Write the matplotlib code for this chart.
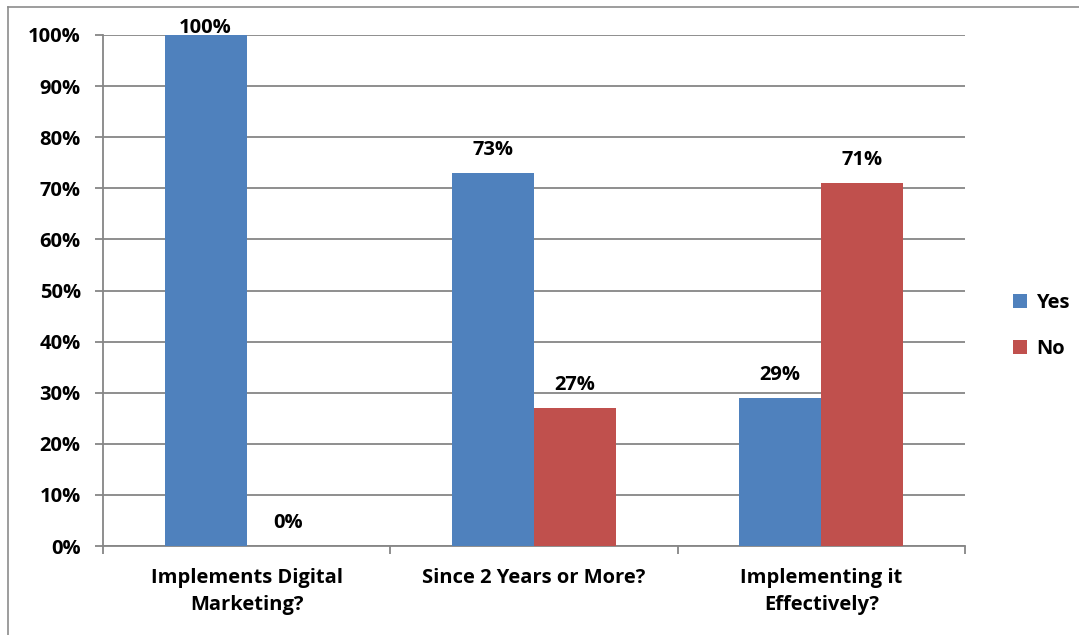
import matplotlib
matplotlib.use("Agg")
import matplotlib.pyplot as plt
from matplotlib.lines import Line2D
from matplotlib.patches import Patch
import numpy as np

categories = ["Implements Digital\nMarketing?", "Since 2 Years or More?", "Implementing it\nEffectively?"]
series_names = ["Yes", "No"]
yes_values = [100, 73, 29]
no_values = [0, 27, 71]
y_ticks = [0, 10, 20, 30, 40, 50, 60, 70, 80, 90, 100]
y_tick_labels = [f"{v}%" for v in y_ticks]

plt.rcParams['font.family'] = ['Open Sans', 'DejaVu Sans']
plt.rcParams['font.weight'] = 'bold'
FS = 14.5

W, H = 1079, 635
fig = plt.figure(figsize=(W / 100, H / 100), dpi=100)

# plot area in pixel coordinates
left, right, top, bottom = 103, 965, 35, 546
ax = fig.add_axes([left / W, 1 - bottom / H, (right - left) / W, (bottom - top) / H])

grid_col = "#868686"
colors = ["#4F81BD", "#C0504D"]
n = len(categories)
x = np.arange(n)
bw = 1 / 3.5

for i, (vals, col) in enumerate(zip([yes_values, no_values], colors)):
    offs = (i - 0.5) * bw
    ax.bar(x + offs, vals, width=bw, color=col, edgecolor="none", zorder=3)
    for xi, v in zip(x, vals):
        # labels sit above the bar, pushed down if they would leave the plot area
        dy = min(23, 7 + (100 - v) * 5.11)
        ax.annotate(f"{v}%", (xi + offs, v), xytext=(0, dy), textcoords="offset pixels",
                    ha="center", va="center", fontsize=FS, fontweight="bold",
                    color="black", zorder=5, annotation_clip=False)

ax.set_xlim(-0.5, n - 0.5)
ax.set_ylim(0, 100)
ax.set_yticks(y_ticks)
ax.set_yticklabels(y_tick_labels, fontsize=FS, fontweight="bold")
ax.yaxis.grid(True, color=grid_col, linewidth=1.3, zorder=0)
ax.set_axisbelow(True)

ax.set_xticks(np.arange(-0.5, n, 1))
ax.set_xticklabels([])
ax.tick_params(axis="x", direction="out", length=6, width=1.3, color=grid_col)
ax.tick_params(axis="y", direction="out", length=6, width=1.3, color=grid_col, pad=10)
for xi, lab in zip(x, categories):
    ax.text(xi, -4.3, lab, ha="center", va="top", fontsize=FS, fontweight="bold",
            transform=ax.transData, linespacing=1.5)

for s in ["top", "right"]:
    ax.spines[s].set_visible(False)
for s in ["left", "bottom"]:
    ax.spines[s].set_color(grid_col)
    ax.spines[s].set_linewidth(1.3)

handles = [Patch(facecolor=c, edgecolor="none") for c in colors]
fig.legend(handles, series_names, loc="center left", bbox_to_anchor=(995 / W, 1 - 326 / H),
           frameon=False, handlelength=0.7, handleheight=0.7,
           handletextpad=0.45, labelspacing=1.3, prop={"weight": "bold", "size": FS})

# outer chart border (top and left edges)
fig.add_artist(Line2D([8 / W, 1], [1 - 7 / H, 1 - 7 / H], transform=fig.transFigure,
                      color="#8c8c8c", linewidth=1.2))
fig.add_artist(Line2D([8 / W, 8 / W], [0, 1 - 7 / H], transform=fig.transFigure,
                      color="#8c8c8c", linewidth=1.2))

fig.savefig("out.png", dpi=100)
